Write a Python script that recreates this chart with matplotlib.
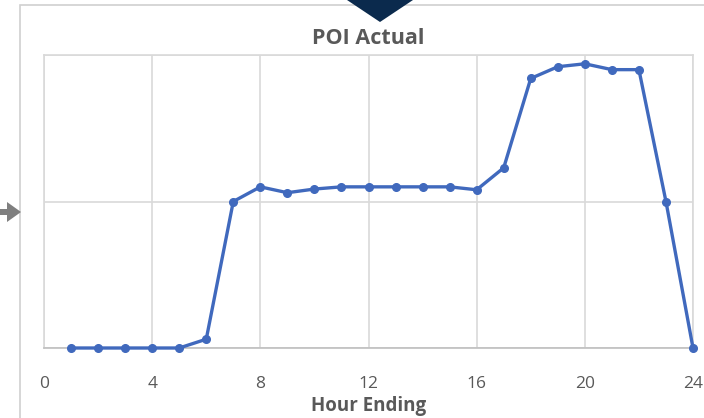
import matplotlib.pyplot as plt
from matplotlib.patches import Polygon, Rectangle, FancyArrow

# --- Data ---
hours = list(range(1, 25))
poi_actual = [0, 0, 0, 0, 0, 0.06, 1.0, 1.10, 1.06, 1.085, 1.10, 1.10,
              1.10, 1.10, 1.10, 1.08, 1.23, 1.84, 1.92, 1.94, 1.90, 1.90, 1.0, 0]
x_ticks = [0, 4, 8, 12, 16, 20, 24]
y_grid = [0, 1, 2]

W, H = 704, 418
TEXT = '#595959'
GRID = '#d9d9d9'

plt.rcParams['font.family'] = ['Open Sans', 'DejaVu Sans']

fig = plt.figure(figsize=(W / 100, H / 100), dpi=100)
fig.patch.set_facecolor('white')

# chart frame
fig.patches.append(Rectangle((20 / W, -0.1), 1.2, 1 - 5 / H + 0.1, transform=fig.transFigure,
                             fill=False, edgecolor='#d0d0d0', linewidth=1.2, zorder=0))

ax = fig.add_axes([44 / W, (H - 348) / H, (693 - 44) / W, (348 - 55) / H])
ax.plot(hours, poi_actual, color='#4069bd', linewidth=2.4, marker='o', markersize=5.5,
        clip_on=False, zorder=3)

ax.set_xlim(0, 24)
ax.set_ylim(0, 2)
ax.set_xticks(x_ticks)
ax.set_yticks(y_grid)
ax.set_yticklabels([])
ax.tick_params(axis='x', length=0, colors=TEXT, labelsize=12.5, pad=20)
ax.tick_params(axis='y', length=0, pad=0)
ax.grid(True, color=GRID, linewidth=1.2)
ax.set_axisbelow(True)
for side in ['top', 'right', 'left']:
    ax.spines[side].set_color(GRID)
    ax.spines[side].set_linewidth(1.2)
ax.spines['bottom'].set_color('#bfbfbf')
ax.spines['bottom'].set_linewidth(1.2)

ax.set_title('POI Actual', fontsize=15.5, fontweight='bold', color=TEXT, pad=8)
ax.set_xlabel('Hour Ending', fontsize=13.5, fontweight='bold', color=TEXT, labelpad=3)

# navy marker at the top
fig.patches.append(Polygon([(347 / W, 1.0), (413 / W, 1.0), (380 / W, 1 - 22 / H)],
                           closed=True, transform=fig.transFigure,
                           facecolor='#0b2a4d', edgecolor='none', zorder=5))

# grey pointer on the left
fig.patches.append(FancyArrow(0 / W, 1 - 212 / H, 7 / W, 0, width=6 / H,
                              head_width=20 / H, head_length=14 / W,
                              length_includes_head=False, transform=fig.transFigure,
                              facecolor='#7f7f7f', edgecolor='none', zorder=5))

plt.savefig('out.png', dpi=100)
